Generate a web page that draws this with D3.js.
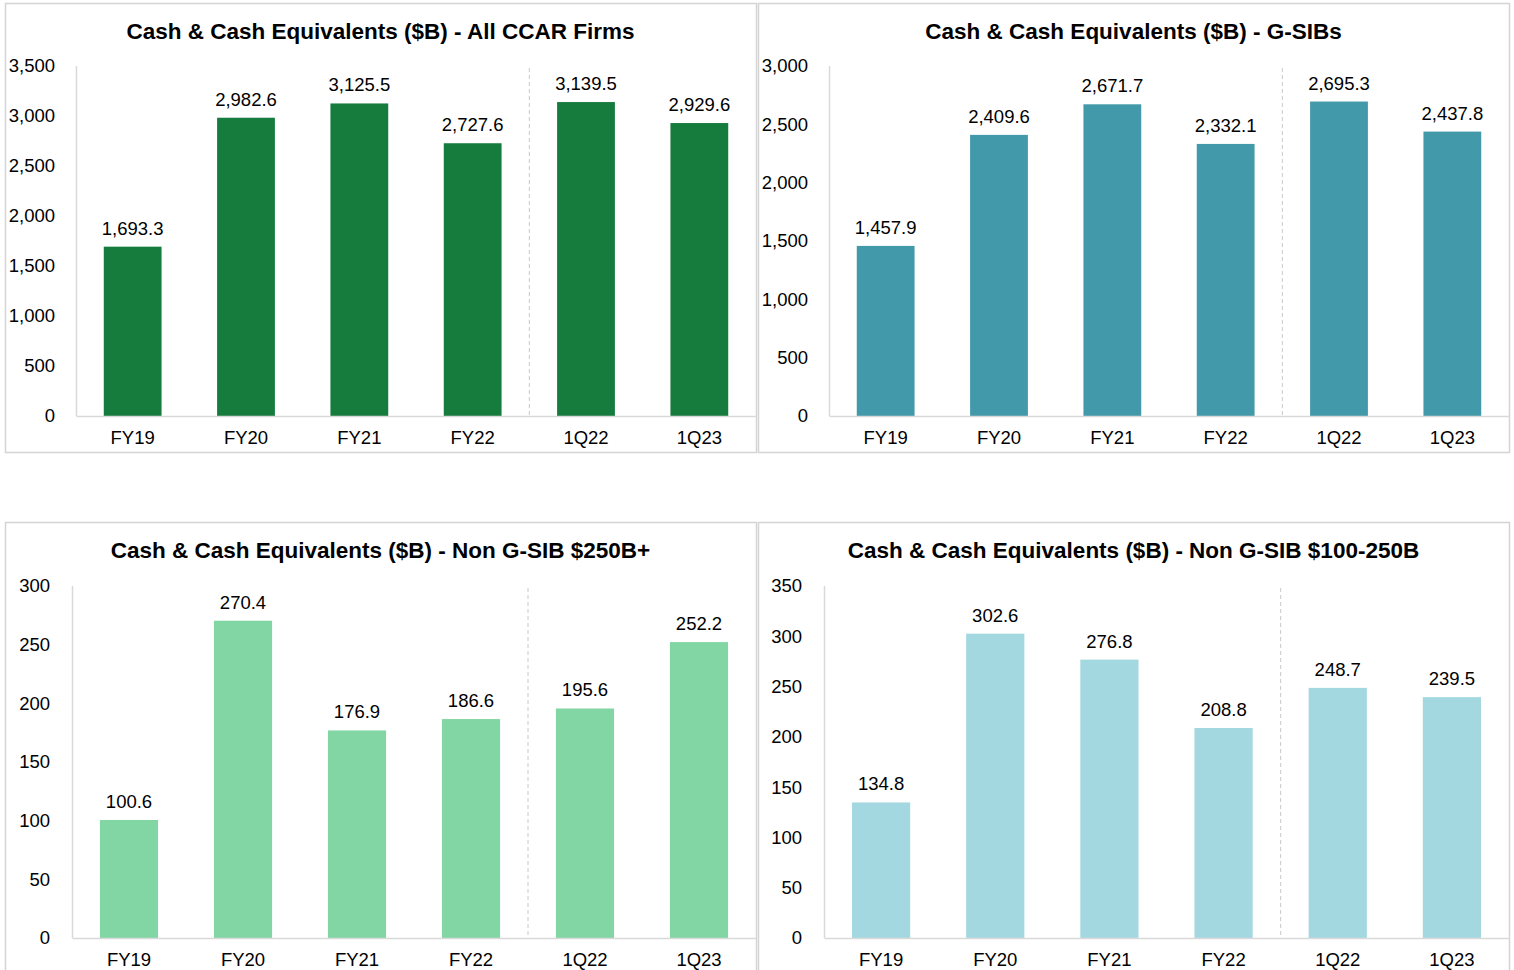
<!DOCTYPE html>
<html>
<head>
<meta charset="utf-8">
<script src="https://cdn.jsdelivr.net/npm/d3@7/dist/d3.min.js"></script>
<style>
  body { margin: 0; background: #fff; }
  svg { display: block; font-family: "Liberation Sans", Arial, sans-serif; }
</style>
</head>
<body>
<svg id="chart" width="1514" height="970"></svg>
<script>
// chart data
var categories = ["FY19", "FY20", "FY21", "FY22", "1Q22", "1Q23"];
var allCcar = [1693.3, 2982.6, 3125.5, 2727.6, 3139.5, 2929.6];
var gsibs = [1457.9, 2409.6, 2671.7, 2332.1, 2695.3, 2437.8];
var nonGsib250 = [100.6, 270.4, 176.9, 186.6, 195.6, 252.2];
var nonGsib100 = [134.8, 302.6, 276.8, 208.8, 248.7, 239.5];
var yTicksAll = [0, 500, 1000, 1500, 2000, 2500, 3000, 3500];
var yTicksGsib = [0, 500, 1000, 1500, 2000, 2500, 3000];
var yTicks250 = [0, 50, 100, 150, 200, 250, 300];
var yTicks100 = [0, 50, 100, 150, 200, 250, 300, 350];

var panels = [
  {title: "Cash & Cash Equivalents ($B) - All CCAR Firms", values: allCcar, ticks: yTicksAll,
   box: [5, 3, 751, 449], plot: [76, 66, 756, 416], labelX: 55, color: "#157c3e"},
  {title: "Cash & Cash Equivalents ($B) - G-SIBs", values: gsibs, ticks: yTicksGsib,
   box: [758, 3, 751, 449], plot: [829, 66, 1509, 416], labelX: 808, color: "#4299aa"},
  {title: "Cash & Cash Equivalents ($B) - Non G-SIB $250B+", values: nonGsib250, ticks: yTicks250,
   box: [5, 522, 751, 460], plot: [72, 586, 756, 938], labelX: 50, color: "#82d6a3"},
  {title: "Cash & Cash Equivalents ($B) - Non G-SIB $100-250B", values: nonGsib100, ticks: yTicks100,
   box: [758, 522, 751, 460], plot: [824, 586, 1509, 938], labelX: 802, color: "#a4d8e1"}
];

var svg = d3.select("#chart");
var fmt = d3.format(",.1f");

panels.forEach(function(p) {
  var g = svg.append("g");
  g.append("rect")
    .attr("x", p.box[0] + 0.5).attr("y", p.box[1] + 0.5)
    .attr("width", p.box[2]).attr("height", p.box[3])
    .attr("fill", "#fff").attr("stroke", "#d4d4d4").attr("stroke-width", 1.5);

  g.append("text")
    .attr("x", p.box[0] + p.box[2] / 2).attr("y", p.box[1] + 36)
    .attr("text-anchor", "middle")
    .attr("font-size", 22.5).attr("font-weight", "bold").attr("fill", "#000")
    .text(p.title);

  var x = d3.scaleBand().domain(categories).range([p.plot[0], p.plot[2]]).paddingInner(0.49).paddingOuter(0.245);
  var y = d3.scaleLinear().domain([0, d3.max(p.ticks)]).range([p.plot[3], p.plot[1]]);

  // y axis labels
  var yAxis = d3.axisLeft(y).tickValues(p.ticks).tickFormat(d3.format(",")).tickSize(0).tickPadding(0);
  var ya = g.append("g").attr("transform", "translate(" + p.labelX + ",0)").call(yAxis);
  ya.select(".domain").remove();
  ya.selectAll("text").attr("font-size", 18.5).attr("fill", "#000").attr("font-family", null);

  // y axis line
  g.append("line")
    .attr("x1", p.plot[0] + 0.5).attr("x2", p.plot[0] + 0.5)
    .attr("y1", p.plot[1]).attr("y2", p.plot[3])
    .attr("stroke", "#d9d9d9").attr("stroke-width", 1.5);

  // dashed separator between annual and quarterly
  var step = x.step();
  var sepX = x("1Q22") - (step - x.bandwidth()) / 2;
  g.append("line")
    .attr("x1", sepX).attr("x2", sepX)
    .attr("y1", p.plot[1] + 2).attr("y2", p.plot[3])
    .attr("stroke", "#c8c8c8").attr("stroke-dasharray", "4,3").attr("stroke-width", 1);

  g.selectAll("rect.bar").data(p.values).enter().append("rect")
    .attr("class", "bar")
    .attr("x", function(d, i) { return x(categories[i]); })
    .attr("width", x.bandwidth())
    .attr("y", function(d) { return y(d); })
    .attr("height", function(d) { return y(0) - y(d); })
    .attr("fill", p.color);

  g.selectAll("text.val").data(p.values).enter().append("text")
    .attr("class", "val")
    .attr("x", function(d, i) { return x(categories[i]) + x.bandwidth() / 2; })
    .attr("y", function(d) { return y(d) - 12; })
    .attr("text-anchor", "middle")
    .attr("font-size", 18.5).attr("fill", "#000")
    .text(function(d) { return fmt(d); });

  // x axis
  var xAxis = d3.axisBottom(x).tickSize(0).tickPadding(15);
  var xa = g.append("g").attr("transform", "translate(0," + p.plot[3] + ")").call(xAxis);
  xa.select(".domain").attr("stroke", "#d9d9d9").attr("stroke-width", 1.5);
  xa.selectAll("text").attr("font-size", 18.5).attr("fill", "#000").attr("font-family", null);
});
</script>
</body>
</html>
